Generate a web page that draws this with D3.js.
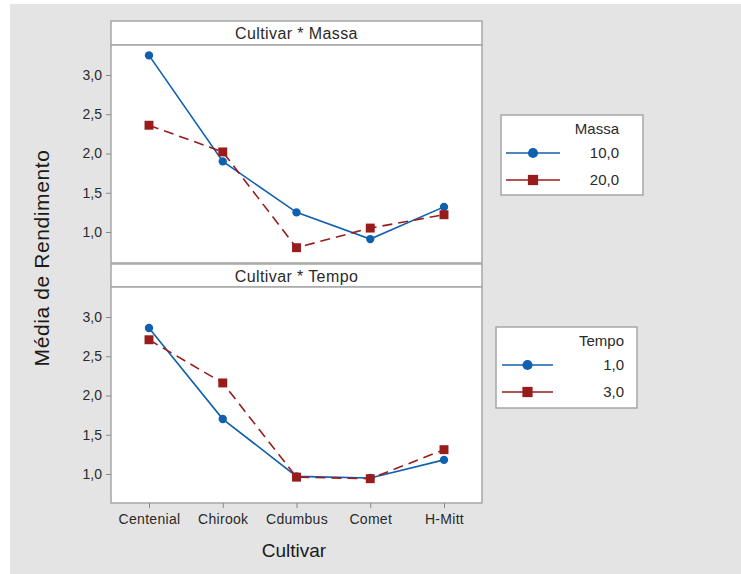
<!DOCTYPE html>
<html>
<head>
<meta charset="utf-8">
<script src="https://cdn.jsdelivr.net/npm/d3@7"></script>
<style>
  body { margin: 0; background: #fff; }
  svg { display: block; }
  text { font-family: "Liberation Sans", Arial, sans-serif; }
</style>
</head>
<body>
<svg id="chart" width="741" height="574"></svg>
<script>
// data
var cultivars = ["Centenial", "Chirook", "Cdumbus", "Comet", "H-Mitt"];
var yTicks = [1.0, 1.5, 2.0, 2.5, 3.0];

var massa10 = [3.25, 1.90, 1.25, 0.91, 1.32];
var massa20 = [2.36, 2.02, 0.80, 1.05, 1.22];
var tempo1 = [2.86, 1.70, 0.97, 0.95, 1.18];
var tempo3 = [2.71, 2.16, 0.96, 0.94, 1.31];

var massaLevels = ["10,0", "20,0"];
var tempoLevels = ["1,0", "3,0"];

var blue = "#1060b0", red = "#991c1c";

var svg = d3.select("#chart");
svg.append("rect").attr("x", 10).attr("y", 4).attr("width", 731).attr("height", 570).attr("fill", "#e4e4e4");

var frameL = 111, frameR = 482;
var x = d3.scalePoint().domain(cultivars).range([149, 444]);

var panels = [
  { title: "Cultivar * Massa", stripTop: 21, top: 45, bottom: 263, series: [massa10, massa20], levels: massaLevels,
    factor: "Massa", legend: { x: 501, y: 115, w: 142, h: 80, lineX0: 506, lineX1: 560, textX: 619 } },
  { title: "Cultivar * Tempo", stripTop: 264, top: 287, bottom: 503, series: [tempo1, tempo3], levels: tempoLevels,
    factor: "Tempo", legend: { x: 496, y: 327, w: 141, h: 81, lineX0: 502, lineX1: 553, textX: 624 } }
];

var fmt = function(d) { return d3.format(".1f")(d).replace(".", ","); };

panels.forEach(function(p, pi) {
  var y = d3.scaleLinear()
    .domain([1.0 - (p.bottom - (p.top + 30 + 157)) / 78.5, 3.0 + 30 / 78.5])
    .range([p.bottom, p.top]);
  // strip
  svg.append("rect").attr("x", frameL).attr("y", p.stripTop).attr("width", frameR - frameL).attr("height", p.top - p.stripTop)
    .attr("fill", "#fff").attr("stroke", "#a6a6a6").attr("stroke-width", 1.5);
  svg.append("text").attr("x", (frameL + frameR) / 2).attr("y", p.stripTop + 18).attr("text-anchor", "middle")
    .attr("font-size", 16).attr("letter-spacing", 0.4).attr("fill", "#2a2a2a").text(p.title);
  // plot area
  svg.append("rect").attr("x", frameL).attr("y", p.top).attr("width", frameR - frameL).attr("height", p.bottom - p.top)
    .attr("fill", "#fff").attr("stroke", "#a6a6a6").attr("stroke-width", 1.5);

  var yAxis = svg.append("g").attr("transform", "translate(" + frameL + ",0)")
    .call(d3.axisLeft(y).tickValues(yTicks).tickFormat(fmt).tickSize(5).tickPadding(4));
  yAxis.select(".domain").remove();
  yAxis.selectAll("line").attr("stroke", "#888");
  yAxis.selectAll("text").attr("font-size", 14).attr("fill", "#2a2a2a").style("font-family", "'Liberation Sans', Arial, sans-serif");

  if (pi === 1) {
    var xAxis = svg.append("g").attr("transform", "translate(0," + p.bottom + ")")
      .call(d3.axisBottom(x).tickSize(5).tickPadding(6));
    xAxis.select(".domain").remove();
    xAxis.selectAll("line").attr("stroke", "#888");
    xAxis.selectAll("text").attr("font-size", 14).attr("letter-spacing", 0.3).attr("fill", "#2a2a2a")
      .style("font-family", "'Liberation Sans', Arial, sans-serif");
  }

  var line = d3.line()
    .x(function(d, i) { return x(cultivars[i]); })
    .y(function(d) { return y(d); });

  var styles = [
    { color: blue, dash: null, shape: d3.symbolCircle, size: 55 },
    { color: red, dash: "10,6", shape: d3.symbolSquare, size: 80 }
  ];

  p.series.forEach(function(s, si) {
    var st = styles[si];
    svg.append("path").datum(s).attr("d", line).attr("fill", "none")
      .attr("stroke", st.color).attr("stroke-width", 1.6).attr("stroke-dasharray", st.dash);
    svg.append("g").selectAll("path").data(s).enter().append("path")
      .attr("d", d3.symbol().type(st.shape).size(st.size))
      .attr("transform", function(d, i) { return "translate(" + x(cultivars[i]) + "," + y(d) + ")"; })
      .attr("fill", st.color);
  });

  // legend
  var L = p.legend;
  svg.append("rect").attr("x", L.x).attr("y", L.y).attr("width", L.w).attr("height", L.h)
    .attr("fill", "#fff").attr("stroke", "#a6a6a6").attr("stroke-width", 1.5);
  svg.append("text").attr("x", L.textX).attr("y", L.y + 19).attr("text-anchor", "end")
    .attr("font-size", 15).attr("fill", "#2a2a2a").text(p.factor);
  p.levels.forEach(function(lv, li) {
    var st = styles[li];
    var ly = L.y + 38 + li * 27;
    var mx = (L.lineX0 + L.lineX1) / 2;
    svg.append("line").attr("x1", L.lineX0).attr("x2", L.lineX1).attr("y1", ly).attr("y2", ly)
      .attr("stroke", st.color).attr("stroke-width", 1.6);
    svg.append("path").attr("d", d3.symbol().type(st.shape).size(st.size + 25)())
      .attr("transform", "translate(" + mx + "," + ly + ")").attr("fill", st.color);
    svg.append("text").attr("x", L.textX).attr("y", ly + 5).attr("text-anchor", "end")
      .attr("font-size", 15).attr("fill", "#2a2a2a").text(lv);
  });
});

svg.append("text").attr("transform", "translate(49,258) rotate(-90)").attr("text-anchor", "middle")
  .attr("font-size", 21).attr("letter-spacing", 0.6).attr("fill", "#1a1a1a").text("Média de Rendimento");
svg.append("text").attr("x", 294).attr("y", 557).attr("text-anchor", "middle")
  .attr("font-size", 19).attr("fill", "#1a1a1a").text("Cultivar");
</script>
</body>
</html>
